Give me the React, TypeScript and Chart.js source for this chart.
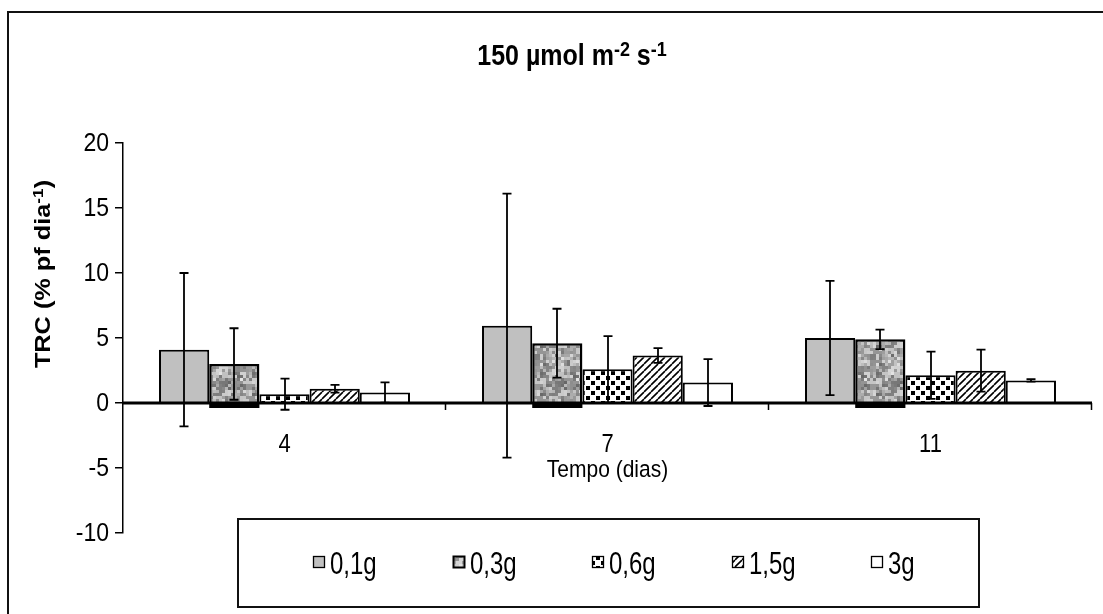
import React, { useEffect, useRef } from 'react';
import { Chart, registerables } from 'chart.js';

Chart.register(...registerables);

// Sampling days (x categories)
const categories = ['4', '7', '11'];
// Series (seed mass) names
const seriesNames = ['0,1g', '0,3g', '0,6g', '1,5g', '3g'];

// Mean TRC (% pf dia-1) per series, one value per day
const trc01 = [4.1, 5.95, 5.0];
const trc03 = [3.0, 4.6, 4.9];
const trc06 = [0.68, 2.6, 2.13];
const trc15 = [1.1, 3.65, 2.49];
const trc3 = [0.8, 1.57, 1.74];

// Error bar half-lengths (same order)
const err01 = [5.9, 10.15, 4.4];
const err03 = [2.75, 2.65, 0.75];
const err06 = [1.2, 2.55, 1.82];
const err15 = [0.3, 0.57, 1.62];
const err3 = [0.78, 1.8, 0.1];

// Y axis range and tick step
const yMin = -10;
const yMax = 20;
const yStep = 5;

const chartTitle = [
  { text: '150 \u00b5mol m', sup: false },
  { text: '-2', sup: true },
  { text: ' s', sup: false },
  { text: '-1', sup: true },
];
const yTitle = [
  { text: 'TRC (% pf dia', sup: false },
  { text: '-1', sup: true },
  { text: ')', sup: false },
];
const xTitle = 'Tempo (dias)';

const values = [trc01, trc03, trc06, trc15, trc3];
const errors = [err01, err03, err06, err15, err3];

const FONT = '"Liberation Sans", Arial, sans-serif';

type Part = { text: string; sup: boolean };

function hash(i: number, j: number, s: number): number {
  let h = Math.imul(i, 374761393) + Math.imul(j, 668265263) + Math.imul(s, 1442695041);
  h = Math.imul(h ^ (h >>> 13), 1274126177);
  h ^= h >>> 16;
  return (h >>> 0) / 4294967296;
}

function makeTile(size: number, paint: (c: CanvasRenderingContext2D) => void): HTMLCanvasElement {
  const t = document.createElement('canvas');
  t.width = size;
  t.height = size;
  const c = t.getContext('2d')!;
  paint(c);
  return t;
}

function makePatterns(ctx: CanvasRenderingContext2D): (string | CanvasPattern)[] {
  // mottled stone-like texture
  const base = makeTile(48, (c) => {
    for (let i = 0; i < 8; i++) {
      for (let j = 0; j < 8; j++) {
        const g = 115 + Math.floor(hash(i, j, 1) * 100);
        c.fillStyle = `rgb(${g},${g},${g})`;
        c.fillRect(i * 6, j * 6, 6, 6);
      }
    }
    for (let i = 0; i < 16; i++) {
      for (let j = 0; j < 16; j++) {
        if (hash(i, j, 2) < 0.5) {
          const g = 95 + Math.floor(hash(i, j, 3) * 140);
          c.fillStyle = `rgba(${g},${g},${g},0.85)`;
          c.fillRect(i * 3, j * 3, 3, 3);
        }
      }
    }
  });
  const granite = makeTile(48, (c) => {
    c.filter = 'blur(0.7px)';
    for (const dx of [-48, 0, 48]) {
      for (const dy of [-48, 0, 48]) {
        c.drawImage(base, dx, dy);
      }
    }
    c.filter = 'none';
  });
  const dots = makeTile(10, (c) => {
    c.fillStyle = '#fff';
    c.fillRect(0, 0, 10, 10);
    c.fillStyle = '#000';
    c.fillRect(1, 1, 4, 4);
    c.fillRect(6, 6, 4, 4);
  });
  const hatch = makeTile(7, (c) => {
    c.fillStyle = '#fff';
    c.fillRect(0, 0, 7, 7);
    c.strokeStyle = '#000';
    c.lineWidth = 1.6;
    c.beginPath();
    for (const k of [-7, 0, 7]) {
      c.moveTo(k, 7);
      c.lineTo(k + 7, 0);
    }
    c.stroke();
  });
  return [
    '#c0c0c0',
    ctx.createPattern(granite, 'repeat')!,
    ctx.createPattern(dots, 'repeat')!,
    ctx.createPattern(hatch, 'repeat')!,
    '#ffffff',
  ];
}

function font(size: number, bold: boolean): string {
  return `${bold ? 'bold ' : ''}${size}px ${FONT}`;
}

// Draws a run of text with superscripts, centred on (0, 0) in the current transform
function drawRich(ctx: CanvasRenderingContext2D, parts: Part[], size: number, bold: boolean) {
  const supSize = Math.round(size * 0.7);
  const widths = parts.map((p) => {
    ctx.font = font(p.sup ? supSize : size, bold);
    return ctx.measureText(p.text).width;
  });
  const total = widths.reduce((a, b) => a + b, 0);
  let x = -total / 2;
  ctx.textAlign = 'left';
  ctx.textBaseline = 'alphabetic';
  parts.forEach((p, i) => {
    ctx.font = font(p.sup ? supSize : size, bold);
    ctx.fillText(p.text, x, p.sup ? -size * 0.32 : 0);
    x += widths[i];
  });
}

function makeDecor(fills: (string | CanvasPattern)[]) {
  return {
    id: 'decor',
    beforeDraw(chart: Chart) {
      const { ctx, width, height } = chart;
      ctx.save();
      ctx.fillStyle = '#fff';
      ctx.fillRect(0, 0, width, height);
      ctx.strokeStyle = '#111';
      ctx.lineWidth = 2;
      ctx.beginPath();
      ctx.moveTo(8, height + 5);
      ctx.lineTo(8, 12);
      ctx.lineTo(width + 5, 12);
      ctx.stroke();
      ctx.restore();
    },
    afterDatasetsDraw(chart: Chart) {
      const { ctx, chartArea } = chart;
      const y = chart.scales.y;
      const x = chart.scales.x;
      const y0 = y.getPixelForValue(0);
      ctx.save();

      // y tick labels
      ctx.fillStyle = '#000';
      y.ticks.forEach((t: any) => {
        ctx.save();
        ctx.translate(chartArea.left - 14, y.getPixelForValue(t.value));
        ctx.scale(1, 1.1);
        ctx.font = font(23, false);
        ctx.textAlign = 'right';
        ctx.textBaseline = 'middle';
        ctx.fillText(String(t.value), 0, 1);
        ctx.restore();
      });

      // heavy base under the 0,3g bars
      ctx.fillStyle = '#000';
      chart.getDatasetMeta(1).data.forEach((el: any) => {
        ctx.fillRect(el.x - el.width / 2, y0, el.width, 5);
      });

      // zero line acting as the category axis
      ctx.strokeStyle = '#000';
      ctx.lineWidth = 3;
      ctx.beginPath();
      ctx.moveTo(chartArea.left, y0);
      ctx.lineTo(chartArea.right, y0);
      ctx.stroke();
      ctx.lineWidth = 1.5;
      const step = (chartArea.right - chartArea.left) / categories.length;
      ctx.beginPath();
      for (let i = 1; i <= categories.length; i++) {
        const tx = Math.round(chartArea.left + i * step) - 0.5;
        ctx.moveTo(tx, y0);
        ctx.lineTo(tx, y0 + 7);
      }
      ctx.stroke();

      // error bars
      ctx.lineWidth = 1.8;
      values.forEach((vals, di) => {
        const meta = chart.getDatasetMeta(di);
        meta.data.forEach((el: any, k: number) => {
          const v = vals[k];
          const e = errors[di][k];
          const yt = y.getPixelForValue(v + e);
          const yb = y.getPixelForValue(v - e);
          const cx = Math.round(el.x);
          ctx.beginPath();
          ctx.moveTo(cx, yt);
          ctx.lineTo(cx, yb);
          ctx.moveTo(cx - 4.5, yt);
          ctx.lineTo(cx + 4.5, yt);
          ctx.moveTo(cx - 4.5, yb);
          ctx.lineTo(cx + 4.5, yb);
          ctx.stroke();
        });
      });

      // category labels
      ctx.fillStyle = '#000';
      categories.forEach((c, i) => {
        const px = x.getPixelForValue(i);
        ctx.save();
        ctx.translate(px, 452);
        ctx.scale(1, 1.15);
        ctx.font = font(22, false);
        ctx.textAlign = 'center';
        ctx.textBaseline = 'alphabetic';
        ctx.fillText(c, 0, 0);
        ctx.restore();
      });

      // x axis title
      ctx.save();
      ctx.translate((chartArea.left + chartArea.right) / 2, 477);
      ctx.scale(1, 1.15);
      ctx.font = font(21, false);
      ctx.textAlign = 'center';
      ctx.fillText(xTitle, 0, 0);
      ctx.restore();

      // chart title
      ctx.save();
      ctx.translate(572, 65);
      ctx.scale(1, 1.15);
      drawRich(ctx, chartTitle, 25, true);
      ctx.restore();

      // y axis title
      ctx.save();
      ctx.translate(50, 274);
      ctx.rotate(-Math.PI / 2);
      ctx.scale(1.15, 1);
      drawRich(ctx, yTitle, 22, true);
      ctx.restore();

      // legend
      ctx.strokeStyle = '#111';
      ctx.lineWidth = 2;
      ctx.strokeRect(238, 519, 741, 88);
      seriesNames.forEach((name, i) => {
        const mx = Math.round(313 + 139.5 * i);
        ctx.fillStyle = fills[i] as any;
        ctx.fillRect(mx, 556, 12, 12);
        ctx.strokeStyle = '#000';
        ctx.lineWidth = i === 1 ? 2 : 1.3;
        ctx.strokeRect(mx + 0.5, 556.5, 11, 11);
        ctx.save();
        ctx.translate(mx + 17, 574);
        ctx.scale(1, 1.3);
        ctx.fillStyle = '#000';
        ctx.font = font(24, false);
        ctx.textAlign = 'left';
        ctx.textBaseline = 'alphabetic';
        ctx.fillText(name, 0, 0);
        ctx.restore();
      });

      ctx.restore();
    },
  };
}

export default function App() {
  const canvasRef = useRef<HTMLCanvasElement | null>(null);

  useEffect(() => {
    const canvas = canvasRef.current;
    if (!canvas) return;
    const ctx = canvas.getContext('2d')!;
    const fills = makePatterns(ctx);

    const chart = new Chart(canvas, {
      type: 'bar',
      data: {
        labels: categories,
        datasets: seriesNames.map((name, i) => ({
          label: name,
          data: values[i],
          backgroundColor: fills[i] as any,
          borderColor: '#000',
          borderWidth: i === 1 ? 2.5 : 2,
          borderSkipped: 'start',
          categoryPercentage: 0.777,
          barPercentage: 1.0,
        })),
      },
      options: {
        responsive: false,
        animation: false,
        devicePixelRatio: 1,
        layout: { padding: { left: 0, top: 143, right: 11, bottom: 81 } },
        plugins: {
          legend: { display: false },
          tooltip: { enabled: false },
          title: { display: false },
        },
        scales: {
          x: { display: false },
          y: {
            min: yMin,
            max: yMax,
            ticks: {
              stepSize: yStep,
              display: false,
            },
            grid: {
              drawOnChartArea: false,
              drawTicks: true,
              tickLength: 8,
              color: '#000',
              lineWidth: 1.5,
            },
            border: { display: true, color: '#000', width: 1.5 },
            afterFit: (scale: any) => {
              scale.width = 123;
            },
          },
        },
      },
      plugins: [makeDecor(fills)],
    });

    return () => chart.destroy();
  }, []);

  return (
    <div style={{ position: 'fixed', left: 0, top: 0, width: 1103, height: 614, background: '#fff' }}>
      <canvas ref={canvasRef} width={1103} height={614} style={{ display: 'block' }} />
    </div>
  );
}
